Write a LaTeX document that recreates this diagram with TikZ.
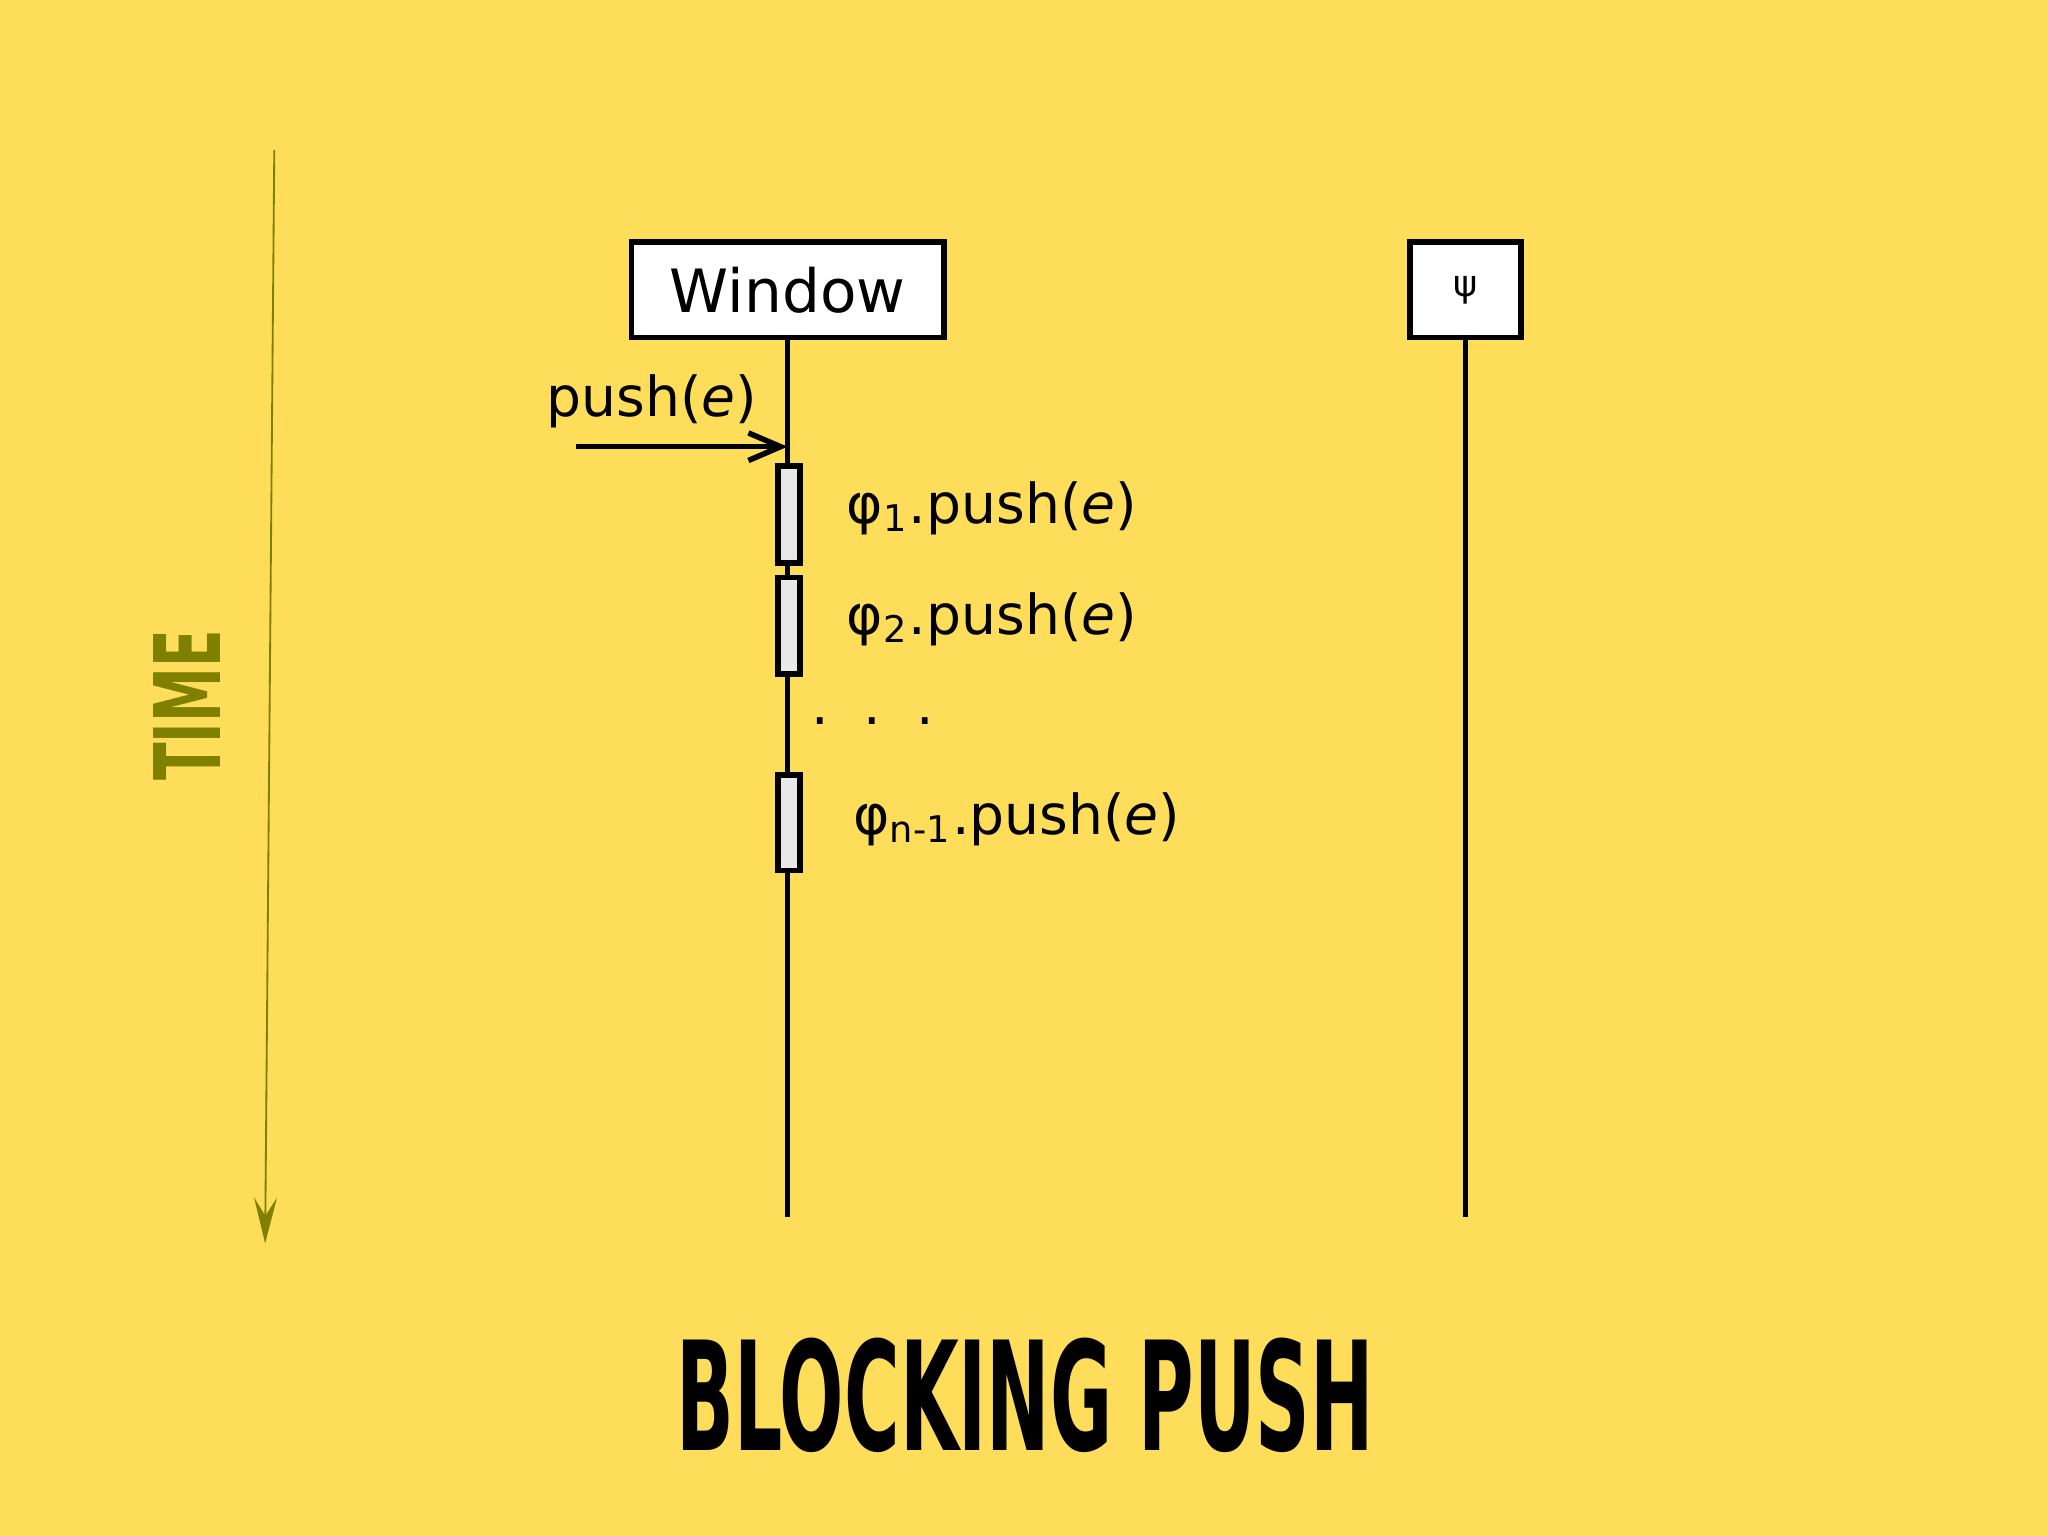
\documentclass[tikz,border=0pt]{standalone}
\usepackage{fontspec}
\setmainfont{DejaVu Sans}
\usetikzlibrary{arrows.meta,positioning}
\definecolor{bgyellow}{RGB}{253,221,90}
\definecolor{olivetime}{RGB}{128,128,0}
\definecolor{actgray}{RGB}{232,232,232}

\begin{document}
\begin{tikzpicture}
    [x=0.01cm,y=-0.01cm,
    object/.style={draw,very thick,fill=white,inner sep=0pt,font=\fontsize{13}{15}\selectfont},
    lifeline/.style={very thick},
    activation/.style={draw,very thick,fill=actgray,minimum width=0.17cm,inner sep=0pt},
    call note/.style={anchor=west,font=\fontsize{12}{14}\selectfont},
    message/.style={very thick,-{Straight Barb[length=7pt,width=6pt]}}]

    %%% background
    \fill[bgyellow] (0,0) rectangle (1568,1176);

    %%% time axis
    \coordinate (timeTop) at (210,115);
    \coordinate (timeEnd) at (203,952);
    \draw[olivetime,thin,-{Stealth[length=10pt,width=5pt,inset=4pt]}] (timeTop) -- (timeEnd);
    \node (time) [rotate=90,text=olivetime,font=\fontsize{20}{22}\selectfont\bfseries] at (143,540) {\scalebox{0.6}[1]{TIME}};

    %%% objects
    \node (window) [object,minimum width=2.39cm,minimum height=0.73cm] at (603,222) {Window};
    \node (psi) [object,minimum width=0.85cm,minimum height=0.73cm,font=\footnotesize] at (1122,222) {ψ};

    %%% lifelines
    \coordinate (windowEnd) at (603,932);
    \coordinate (psiEnd) at (1122,932);
    \draw[lifeline] (window.south) -- (windowEnd);
    \draw[lifeline] (psi.south) -- (psiEnd);

    %%% incoming message
    \coordinate (pushStart) at (441,342);
    \coordinate (pushEnd) at (603,342);
    \draw[message] (pushStart) -- (pushEnd);
    \node (pushLabel) [font=\fontsize{12}{14}\selectfont] at (499,307) {push(\textit{e})};

    %%% activations
    \node (act1) [activation,minimum height=0.74cm] at (604,394) {};
    \node (act2) [activation,minimum height=0.74cm] at (604,479) {};
    \node (act3) [activation,minimum height=0.73cm] at (604,630) {};

    \node (call1) [call note] at (636,389) {φ\textsubscript{1}.push(\textit{e})};
    \node (call2) [call note] at (636,474) {φ\textsubscript{2}.push(\textit{e})};
    \node (dots) [font=\fontsize{12}{14}\selectfont] at (668,552) {.\ \ .\ \ .};
    \node (call3) [call note] at (641,627) {φ\textsubscript{n-1}.push(\textit{e})};

    %%% title
    \node (title) [font=\fontsize{33}{36}\selectfont\bfseries] at (785,1068) {\scalebox{0.5}[1]{BLOCKING PUSH}};
\end{tikzpicture}
\end{document}
